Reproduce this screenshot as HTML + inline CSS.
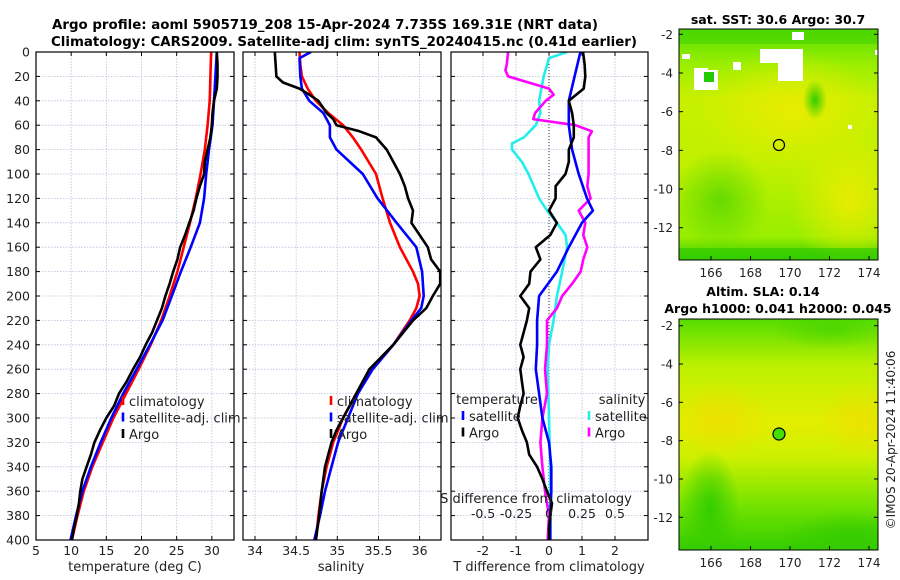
<!DOCTYPE html>
<html><head><meta charset="utf-8">
<style>
html,body{margin:0;padding:0;background:#fff;}
svg{display:block;font-family:"DejaVu Sans","Liberation Sans",sans-serif;}
</style></head>
<body>
<svg id="fig" width="900" height="580" viewBox="0 0 900 580" xmlns="http://www.w3.org/2000/svg">
  <defs>
    <radialGradient id="g1" cx="50%" cy="50%" r="50%"><stop offset="0" stop-color="#e8ec00"/><stop offset="1" stop-color="#e8ec00" stop-opacity="0"/></radialGradient>
    <radialGradient id="g2" cx="50%" cy="50%" r="50%"><stop offset="0" stop-color="#33cc00"/><stop offset="1" stop-color="#33cc00" stop-opacity="0"/></radialGradient>
    <radialGradient id="g3" cx="50%" cy="50%" r="50%"><stop offset="0" stop-color="#eedd00"/><stop offset="1" stop-color="#eedd00" stop-opacity="0"/></radialGradient>
    <linearGradient id="m1" x1="0" y1="0" x2="0" y2="1">
      <stop offset="0" stop-color="#55dd00"/><stop offset="0.15" stop-color="#99ee00"/><stop offset="0.3" stop-color="#c8f000"/>
      <stop offset="0.6" stop-color="#c0f000"/><stop offset="0.9" stop-color="#99ee00"/><stop offset="1" stop-color="#33cc00"/>
    </linearGradient>
    <linearGradient id="m2" x1="0" y1="0" x2="0" y2="1">
      <stop offset="0" stop-color="#55dd00"/><stop offset="0.2" stop-color="#bbf000"/><stop offset="0.45" stop-color="#e4ee00"/>
      <stop offset="0.6" stop-color="#ccf000"/><stop offset="0.8" stop-color="#77e400"/><stop offset="1" stop-color="#33cc00"/>
    </linearGradient>
    <clipPath id="cp1"><rect x="36" y="52" width="198" height="488"/></clipPath>
    <clipPath id="cp2"><rect x="243" y="52" width="198" height="488"/></clipPath>
    <clipPath id="cp3"><rect x="451" y="52" width="197" height="488"/></clipPath>
    <clipPath id="cm1"><rect x="679" y="29" width="199" height="231"/></clipPath>
    <clipPath id="cm2"><rect x="679" y="319" width="199" height="231"/></clipPath>
  </defs>

  <g font-weight="bold" font-size="13" text-anchor="middle" fill="#000">
    <text x="325" y="29" textLength="546" lengthAdjust="spacingAndGlyphs">Argo profile: aoml 5905719_208 15-Apr-2024 7.735S 169.31E (NRT data)</text>
    <text x="344" y="46" textLength="586" lengthAdjust="spacingAndGlyphs">Climatology: CARS2009. Satellite-adj clim: synTS_20240415.nc (0.41d earlier)</text>
  </g>

  <g id="panels"></g>

  <!-- SST map -->
  <g>
    <text x="778" y="24" font-size="12.5" font-weight="bold" text-anchor="middle">sat. SST: 30.6 Argo: 30.7</text>
    <g clip-path="url(#cm1)">
      <rect x="679" y="29" width="199" height="231" fill="url(#m1)"/>
      <ellipse cx="790" cy="110" rx="90" ry="60" fill="url(#g1)"/>
      <ellipse cx="850" cy="200" rx="60" ry="70" fill="url(#g1)"/>
      <ellipse cx="720" cy="200" rx="50" ry="50" fill="url(#g2)" opacity="0.6"/>
      <ellipse cx="815" cy="100" rx="12" ry="20" fill="url(#g2)"/>
      <rect x="679" y="29" width="199" height="15" fill="#44d400" opacity="0.6"/>
      <rect x="679" y="248" width="199" height="12" fill="#33cc00" opacity="0.7"/>
      <rect x="778" y="49" width="25" height="32" fill="#fff"/>
      <rect x="792" y="32" width="12" height="8" fill="#fff"/>
      <rect x="760" y="49" width="18" height="14" fill="#fff"/>
      <rect x="694" y="68" width="14" height="22" fill="#fff"/>
      <rect x="708" y="70" width="10" height="20" fill="#fff"/>
      <rect x="704" y="72" width="10" height="10" fill="#22cc00"/>
      <rect x="682" y="54" width="8" height="5" fill="#fff"/>
      <rect x="875" y="50" width="5" height="5" fill="#fff"/>
      <rect x="848" y="125" width="4" height="4" fill="#fff"/>
      <rect x="733" y="62" width="8" height="8" fill="#fff"/>
    </g>
    <rect x="679" y="29" width="199" height="231" fill="none" stroke="#000" stroke-width="1"/>
    <circle cx="779" cy="145" r="5.5" fill="none" stroke="#000" stroke-width="1.2"/>
    <g id="map1ticks" font-size="12" fill="#222"></g>
  </g>

  <!-- SLA map -->
  <g>
    <text x="763" y="296" font-size="12.5" font-weight="bold" text-anchor="middle">Altim. SLA: 0.14</text>
    <text x="778" y="313" font-size="12.5" font-weight="bold" text-anchor="middle">Argo h1000: 0.041 h2000: 0.045</text>
    <g clip-path="url(#cm2)">
      <rect x="679" y="319" width="199" height="231" fill="url(#m2)"/>
      <ellipse cx="720" cy="420" rx="50" ry="40" fill="url(#g3)" opacity="0.8"/>
      <ellipse cx="860" cy="420" rx="40" ry="40" fill="url(#g3)" opacity="0.7"/>
      <ellipse cx="710" cy="510" rx="30" ry="60" fill="url(#g2)"/>
      <ellipse cx="850" cy="540" rx="70" ry="30" fill="url(#g2)"/>
      <ellipse cx="830" cy="330" rx="60" ry="20" fill="url(#g2)" opacity="0.5"/>
    </g>
    <rect x="679" y="319" width="199" height="231" fill="none" stroke="#000" stroke-width="1"/>
    <circle cx="779" cy="434" r="6" fill="#44dd00" stroke="#000" stroke-width="1.2"/>
    <g id="map2ticks" font-size="12" fill="#222"></g>
  </g>

  <text transform="translate(895,440) rotate(-90)" font-size="12" text-anchor="middle" fill="#222">©IMOS 20-Apr-2024 11:40:06</text>
</svg>

<script>
// ---------- data ----------
const depthGrid = [0,20,40,60,80,100,120,140,160,180,200,220,240,260,280,300,320,340,360,380,400];
const tempClim = [29.9,29.8,29.7,29.4,29.0,28.4,27.7,26.9,26.0,25.1,24.0,22.8,21.3,19.6,17.8,16.0,14.5,13.0,11.8,10.9,10.1];
const tempSat = [30.7,30.5,30.3,30.1,29.6,29.2,28.9,28.3,27.0,25.6,24.3,23.0,21.2,19.3,17.4,15.7,14.2,12.8,11.6,10.7,9.9];
const argoDepth = [0,10,20,30,40,50,60,70,80,90,100,110,120,130,140,150,160,170,180,190,200,210,220,230,240,250,260,270,280,290,300,310,320,330,340,350,360,370,380,390,400];
const tempArgo = [30.7,30.8,30.8,30.7,30.3,30.1,30.0,29.8,29.4,29.0,28.9,28.3,27.8,27.4,26.8,26.2,25.5,25.1,24.5,24.0,23.4,22.9,22.2,21.5,20.6,19.8,18.8,17.9,16.8,16.1,15.0,14.1,13.3,12.8,12.2,11.6,11.3,11.1,10.8,10.4,10.1];

const salClimDepth = [0,10,20,30,40,50,60,70,80,100,120,140,160,180,190,200,210,220,240,260,280,300,320,340,360,380,400];
const salClim = [34.54,34.55,34.57,34.64,34.74,34.89,35.07,35.19,35.29,35.47,35.55,35.64,35.76,35.92,35.98,36.0,35.96,35.88,35.68,35.43,35.23,35.07,34.95,34.87,34.81,34.77,34.74];
const salSatDepth = [0,5,20,30,40,50,60,70,80,100,120,140,160,180,200,210,220,240,260,280,300,320,340,360,380,400];
const salSat = [34.68,34.54,34.55,34.57,34.66,34.83,34.91,34.91,34.99,35.31,35.49,35.72,35.96,36.03,36.05,36.02,35.9,35.68,35.43,35.25,35.13,35.01,34.93,34.85,34.79,34.72];
const salArgoDepth = [0,10,20,25,30,35,40,50,55,60,65,70,80,90,100,110,120,130,140,150,160,170,180,190,200,210,220,240,260,280,300,310,320,340,360,380,400];
const salArgo = [34.24,34.25,34.26,34.34,34.54,34.66,34.77,34.87,34.95,34.99,35.27,35.47,35.6,35.68,35.76,35.82,35.86,35.92,35.9,36.0,36.1,36.14,36.25,36.25,36.16,36.08,35.92,35.68,35.39,35.23,35.07,34.99,34.93,34.85,34.81,34.78,34.74];

const dTSatDepth = [0,40,60,80,100,120,130,140,160,180,200,220,240,260,280,300,320,340,360,380,400];
const dTSat = [0.95,0.6,0.6,0.7,0.9,1.15,1.33,1.0,0.6,0.24,-0.3,-0.36,-0.36,-0.4,-0.3,-0.2,0,0.07,0.07,0.04,0.04];
const dTArgo = [1.03,1.08,1.1,1.05,0.6,0.7,0.75,0.75,0.6,0.6,0.5,0.2,0.2,0,0.24,0.04,-0.4,-0.26,-0.56,-0.6,-0.87,-0.6,-0.67,-0.77,-0.87,-0.77,-0.87,-0.82,-0.77,-0.87,-0.95,-0.82,-0.67,-0.6,-0.36,-0.2,-0.06,0.09,0.04,0,0];
const dSSatDepth = [0,5,20,40,50,60,70,75,80,90,100,120,130,140,150,160,180,200,220,240,260,300,340,400];
const dSSat = [0.137,0,-0.04,-0.075,-0.065,-0.1,-0.19,-0.28,-0.28,-0.205,-0.155,-0.075,-0.015,0.06,0.125,0.137,0.1,0.06,0.035,0,-0.01,0,0.01,0.01];
const dSArgoDepth = [0,10,15,20,30,35,40,50,55,60,65,70,80,100,110,120,130,140,150,160,170,180,190,200,210,220,240,260,280,300,320,340,360,380,400];
const dSArgo = [-0.31,-0.32,-0.33,-0.31,0,0.035,-0.025,-0.105,-0.12,0.2,0.325,0.3,0.3,0.3,0.29,0.315,0.225,0.275,0.26,0.29,0.26,0.24,0.175,0.1,0.06,-0.015,-0.015,-0.03,-0.015,-0.05,-0.065,-0.05,-0.03,0,-0.01];

const depthTicks = [0,20,40,60,80,100,120,140,160,180,200,220,240,260,280,300,320,340,360,380,400];
const tempTicks = [5,10,15,20,25,30];
const salTicks = [34,34.5,35,35.5,36];
const salTickLabels = ["34","34.5","35","35.5","36"];
const dTTicks = [-2,-1,0,1,2];
const dSTicks = [-0.5,-0.25,0,0.25,0.5];
const dSTickLabels = ["-0.5","-0.25","0","0.25","0.5"];
const lonTicks = [166,168,170,172,174];
const latTicks = [-2,-4,-6,-8,-10,-12];

// ---------- helpers ----------
const NS = "http://www.w3.org/2000/svg";
const TOP = 52, BOT = 540;
const yD = d => TOP + d / 400 * (BOT - TOP);
function mk(tag, attrs, parent) {
  const e = document.createElementNS(NS, tag);
  for (const k in attrs) e.setAttribute(k, attrs[k]);
  parent.appendChild(e);
  return e;
}
const root = document.getElementById('panels');

function panel(name, x0, x1, xmin, xmax, clip) {
  const g = mk('g', {}, root);
  
  
  const sx = v => x0 + (v - xmin) / (xmax - xmin) * (x1 - x0);
  return {g, sx, x0, x1, clip};
}
function grid(p, xt) {
  const gg = mk('g', {stroke: '#b8c0dc', 'stroke-width': 0.8, 'stroke-dasharray': '1.5,1.5'}, p.g);
  
  
  depthTicks.forEach(d => { if (d > 0 && d < 400) mk('line', {x1: p.x0, x2: p.x1, y1: yD(d), y2: yD(d)}, gg); });
  xt.forEach(v => { const x = p.sx(v); if (x > p.x0 + 1 && x < p.x1 - 1) mk('line', {x1: x, x2: x, y1: TOP, y2: BOT}, gg); });
  const tk = mk('g', {stroke: '#000', 'stroke-width': 1}, p.g);
  depthTicks.forEach(d => {
    mk('line', {x1: p.x0, x2: p.x0 + 4, y1: yD(d), y2: yD(d)}, tk);
    mk('line', {x1: p.x1, x2: p.x1 - 4, y1: yD(d), y2: yD(d)}, tk);
  });
  xt.forEach(v => {
    const x = p.sx(v);
    mk('line', {x1: x, x2: x, y1: BOT, y2: BOT - 4}, tk);
    mk('line', {x1: x, x2: x, y1: TOP, y2: TOP + 4}, tk);
  });
}
function frame(p) {
  const r = mk('rect', {x: p.x0, y: TOP, width: p.x1 - p.x0, height: BOT - TOP, fill: 'none', stroke: '#000', 'stroke-width': 1.2}, p.g);
  
  
}
function line(p, name, depths, vals, color, sx) {
  const f = sx || p.sx;
  const pts = vals.map((v, i) => f(v).toFixed(1) + ',' + yD(depths[i]).toFixed(1)).join(' ');
  const l = mk('polyline', {points: pts, fill: 'none', stroke: color, 'stroke-width': 2.6, 'stroke-linejoin': 'round', 'clip-path': 'url(#' + p.clip + ')'}, p.g);
  
  
}
function txt(parent, name, x, y, s, opts) {
  const t = mk('text', Object.assign({x: x, y: y, 'font-size': 12.5, fill: '#222'}, opts || {}), parent);
  t.textContent = s;
  
  
  return t;
}
function legend(p, x, y0, items) {
  const lg = mk('g', {}, p.g);
  
  
  items.forEach((it, i) => {
    const y = y0 + i * 16.5;
    const entry = mk('g', {}, lg);
    
    
    mk('line', {x1: x, x2: x, y1: y - 10, y2: y - 1, stroke: it[1], 'stroke-width': 2.6}, entry);
    txt(entry, 'legend-label', x + 6, y, it[0], {'font-size': 13});
  });
}

// ---------- temperature panel ----------
const pT = panel('temperature-panel', 36, 234, 5, 33.15, 'cp1');
grid(pT, tempTicks);
line(pT, 'temp-climatology-line', depthGrid, tempClim, '#ff0000');
line(pT, 'temp-satellite-line', depthGrid, tempSat, '#0000ff');
line(pT, 'temp-argo-line', argoDepth, tempArgo, '#000000');
frame(pT);
depthTicks.forEach(d => txt(pT.g, 'y-tick-label', 30, yD(d) + 4.5, String(d), {'text-anchor': 'end'}));
tempTicks.forEach((v, i) => txt(pT.g, 'x-tick-label', pT.sx(v), 555, String(v), {'text-anchor': 'middle'}));
txt(pT.g, 'x-axis-title', 135, 571, 'temperature (deg C)', {'text-anchor': 'middle', 'font-size': 13});
legend(pT, 123, 406, [['climatology', '#ff0000'], ['satellite-adj. clim', '#0000ff'], ['Argo', '#000']]);

// ---------- salinity panel ----------
const pS = panel('salinity-panel', 243, 441, 33.854, 36.26, 'cp2');
grid(pS, salTicks);
line(pS, 'sal-climatology-line', salClimDepth, salClim, '#ff0000');
line(pS, 'sal-satellite-line', salSatDepth, salSat, '#0000ff');
line(pS, 'sal-argo-line', salArgoDepth, salArgo, '#000000');
frame(pS);
salTicks.forEach((v, i) => txt(pS.g, 'x-tick-label', pS.sx(v), 555, salTickLabels[i], {'text-anchor': 'middle'}));
txt(pS.g, 'x-axis-title', 341, 571, 'salinity', {'text-anchor': 'middle', 'font-size': 13});
legend(pS, 331, 406, [['climatology', '#ff0000'], ['satellite-adj. clim', '#0000ff'], ['Argo', '#000']]);

// ---------- difference panel ----------
const pD = panel('difference-panel', 451, 648, -2.97, 3.0, 'cp3');
const sxS = v => pD.sx(v * 4);
grid(pD, dTTicks);
const zl = mk('line', {x1: pD.sx(0), x2: pD.sx(0), y1: TOP, y2: BOT, stroke: '#333', 'stroke-width': 1, 'stroke-dasharray': '1,2'}, pD.g);


line(pD, 'dS-satellite-line', dSSatDepth, dSSat, '#22eeee', sxS);
line(pD, 'dS-argo-line', dSArgoDepth, dSArgo, '#ff00ff', sxS);
line(pD, 'dT-satellite-line', dTSatDepth, dTSat, '#0000ff');
line(pD, 'dT-argo-line', argoDepth, dTArgo, '#000000');
frame(pD);
dTTicks.forEach(v => txt(pD.g, 'x-tick-label', pD.sx(v), 555, String(v), {'text-anchor': 'middle'}));
txt(pD.g, 'x-axis-title', 549, 571, 'T difference from climatology', {'text-anchor': 'middle', 'font-size': 13});
txt(pD.g, 'secondary-axis-title', 536, 503, 'S difference from climatology', {'text-anchor': 'middle', 'font-size': 13});
dSTicks.forEach((v, i) => txt(pD.g, 'secondary-tick-label', sxS(v), 518, dSTickLabels[i], {'text-anchor': 'middle'}));
txt(pD.g, 'legend-header-temperature', 497, 404, 'temperature', {'text-anchor': 'middle', 'font-size': 13});
txt(pD.g, 'legend-header-salinity', 622, 404, 'salinity', {'text-anchor': 'middle', 'font-size': 13});
legend(pD, 463, 421, [['satellite', '#0000ff'], ['Argo', '#000']]);
legend(pD, 589, 421, [['satellite', '#22eeee'], ['Argo', '#ff00ff']]);

// ---------- map ticks ----------
function mapTicks(id, top, latTop, pxPerDeg, bottom) {
  const g = document.getElementById(id);
  const sxLon = v => 711 + (v - 166) * 19.75;
  latTicks.forEach(v => {
    const y = top + (latTop - v) * pxPerDeg;
    const t = txt(g, 'map-lat-label', 673, y + 4.5, String(v), {'text-anchor': 'end', 'font-size': 12});
    mk('line', {x1: 679, x2: 683, y1: y, y2: y, stroke: '#000'}, g);
    mk('line', {x1: 878, x2: 874, y1: y, y2: y, stroke: '#000'}, g);
  });
  lonTicks.forEach(v => {
    const x = sxLon(v);
    txt(g, 'map-lon-label', x, bottom + 17, String(v), {'text-anchor': 'middle', 'font-size': 12});
    mk('line', {x1: x, x2: x, y1: bottom, y2: bottom - 4, stroke: '#000'}, g);
  });
}
mapTicks('map1ticks', 34.3, -2, 19.34, 260);
mapTicks('map2ticks', 325.7, -2, 19.16, 550);
</script>
</body></html>
